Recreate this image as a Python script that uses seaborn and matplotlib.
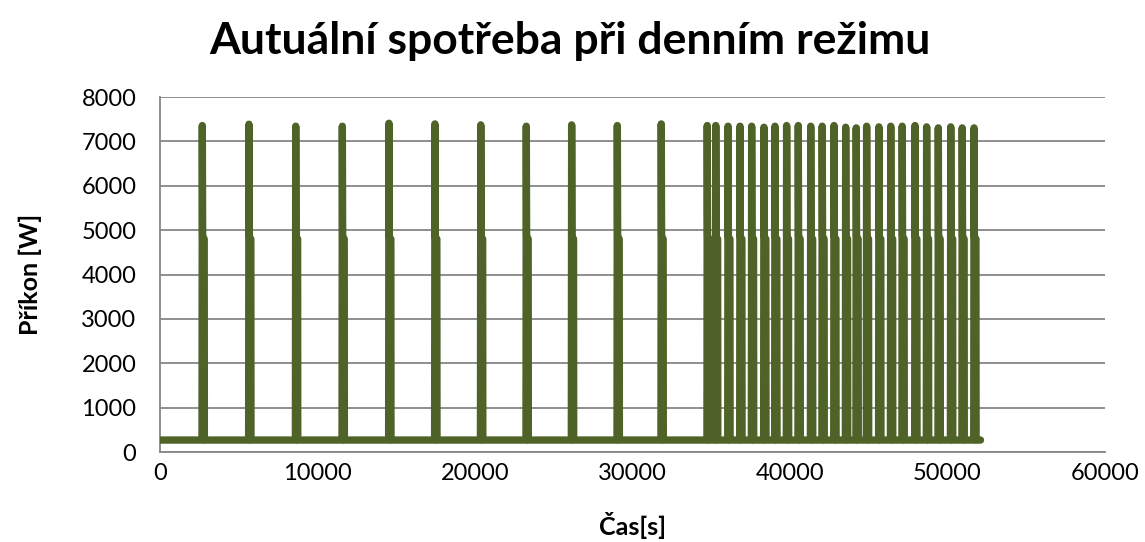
import matplotlib

matplotlib.use("Agg")
import matplotlib.pyplot as plt
import seaborn as sns
import pandas as pd

# odečtené hodnoty z grafu
spike_times = [2750, 5710, 8680, 11640, 14600, 17520, 20430, 23320, 26200, 29100, 31890,
               34810, 35350, 36130, 36890, 37630, 38410, 39110, 39850, 40590, 41380,
               42110, 42860, 43600, 44270, 44930, 45710, 46460, 47190, 48000, 48740,
               49480, 50270, 51000, 51750]
spike_peaks = [7357, 7387, 7342, 7342, 7409, 7394, 7372, 7342, 7372, 7357, 7394,
               7357, 7357, 7342, 7342, 7342, 7319, 7342, 7357, 7357, 7342,
               7342, 7357, 7319, 7304, 7342, 7327, 7342, 7342, 7357, 7327,
               7304, 7327, 7304, 7304]
shoulder = 4850      # schod při poklesu
baseline = 270       # klidová spotřeba
t_start = 0
t_end = 52100

# tvar jednoho pulzu: (posun v s, hodnota)
pulse_offsets = [-80, -70, -60, -40, 60, 70]


def build_series():
    t = [t_start]
    p = [baseline]
    for tc, pk in zip(spike_times, spike_peaks):
        vals = [baseline, 3500, pk, shoulder, shoulder - 50, baseline]
        for off, v in zip(pulse_offsets, vals):
            t.append(tc + off)
            p.append(v)
    t.append(t_end)
    p.append(baseline)
    return pd.DataFrame({"cas": t, "prikon": p})


df = build_series()

sns.set_style("white")
plt.rcParams["font.family"] = ["Lato", "DejaVu Sans"]
plt.rcParams["text.color"] = "black"
plt.rcParams["axes.labelcolor"] = "black"
plt.rcParams["xtick.color"] = "black"
plt.rcParams["ytick.color"] = "black"

fig = plt.figure(figsize=(11.45, 5.42), dpi=100)
ax = fig.add_axes([0.1397, 0.166, 0.8253, 0.655])

grid_col = "#868686"
sns.lineplot(data=df, x="cas", y="prikon", ax=ax, sort=False, estimator=None,
             color="#4F6228", linewidth=5.3, solid_capstyle="round",
             solid_joinstyle="round", zorder=3)

ax.set_xlim(0, 60000)
ax.set_ylim(0, 8000)
ax.set_xticks(range(0, 60001, 10000))
ax.set_yticks(range(0, 8001, 1000))
ax.yaxis.grid(True, color=grid_col, linewidth=1.3)
ax.xaxis.grid(False)
for s in ["top", "right"]:
    ax.spines[s].set_visible(False)
for s in ["left", "bottom"]:
    ax.spines[s].set_color(grid_col)
    ax.spines[s].set_linewidth(1.3)
ax.tick_params(axis="y", length=5, color=grid_col, labelcolor="black", labelsize=17, pad=12)
ax.tick_params(axis="x", length=0, labelcolor="black", labelsize=17, pad=8)

ax.set_xlabel("Čas[s]", fontsize=18, fontweight="bold", labelpad=20)
ax.set_ylabel("Příkon [W]", fontsize=18, fontweight="bold", labelpad=28)
fig.text(0.498, 0.925, "Autuální spotřeba při denním režimu", ha="center",
         va="center", fontsize=32, fontweight="bold")

fig.savefig("out.png", dpi=100)
plt.close(fig)
